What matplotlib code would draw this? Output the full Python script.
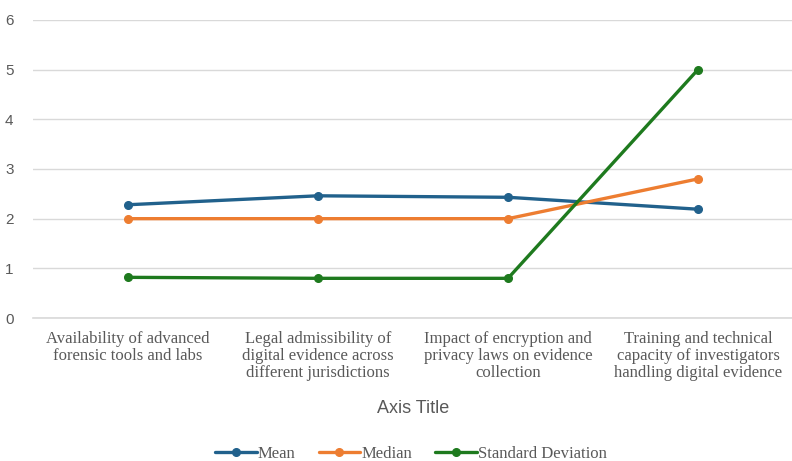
import numpy as np
from matplotlib import pyplot as plt

# категории по оси X и значения трёх рядов
categories = [
    'Availability of advanced\nforensic tools and labs',
    'Legal admissibility of\ndigital evidence across\ndifferent jurisdictions',
    'Impact of encryption and\nprivacy laws on evidence\ncollection',
    'Training and technical\ncapacity of investigators\nhandling digital evidence',
]
mean_vals = [2.28, 2.46, 2.43, 2.19]
median_vals = [2.0, 2.0, 2.0, 2.8]
std_vals = [0.82, 0.80, 0.80, 5.0]
y_ticks = [0, 1, 2, 3, 4, 5, 6]

series = [
    ('Mean', mean_vals, '#21618C'),
    ('Median', median_vals, '#ED7D31'),
    ('Standard Deviation', std_vals, '#1E7A1E'),
]

fig = plt.figure(figsize=(7.92, 4.61), dpi=100)
ax = fig.add_axes([33 / 792, 0.310, 760 / 792, 0.647])

x = np.arange(len(categories))
for name, vals, color in series:
    ax.plot(x, vals, color=color, lw=2.4, marker='o', markersize=5.5,
            label=name, solid_capstyle='round')

ax.set_xlim(-0.5, len(categories) - 0.5)
ax.set_ylim(0, 6)
ax.axhline(0, color='#d9d9d9', lw=1.2, zorder=0, clip_on=False)
ax.set_yticks(y_ticks)
ax.set_yticklabels([str(t) for t in y_ticks], fontsize=11, color='#595959',
                   family='Liberation Sans')
ax.set_xticks(x)
ax.set_xticklabels(categories, fontsize=12, color='#595959',
                   family='Liberation Serif', linespacing=1.12, va='top')
ax.tick_params(axis='both', length=0)
ax.tick_params(axis='x', pad=9)
ax.tick_params(axis='y', pad=14)
ax.grid(axis='y', color='#d9d9d9', lw=1)
ax.set_axisbelow(True)
for s in ax.spines.values():
    s.set_visible(False)

ax.set_xlabel('Axis Title', fontsize=13, color='#595959', family='Liberation Sans',
              labelpad=13)

ax.legend(loc='upper center', bbox_to_anchor=(0.497, -0.377), ncol=3, frameon=False,
          prop={'family': 'Liberation Serif', 'size': 12}, handlelength=2.5,
          columnspacing=1.4, handletextpad=0.05, labelcolor='#595959')

plt.savefig('out.png', dpi=100)
